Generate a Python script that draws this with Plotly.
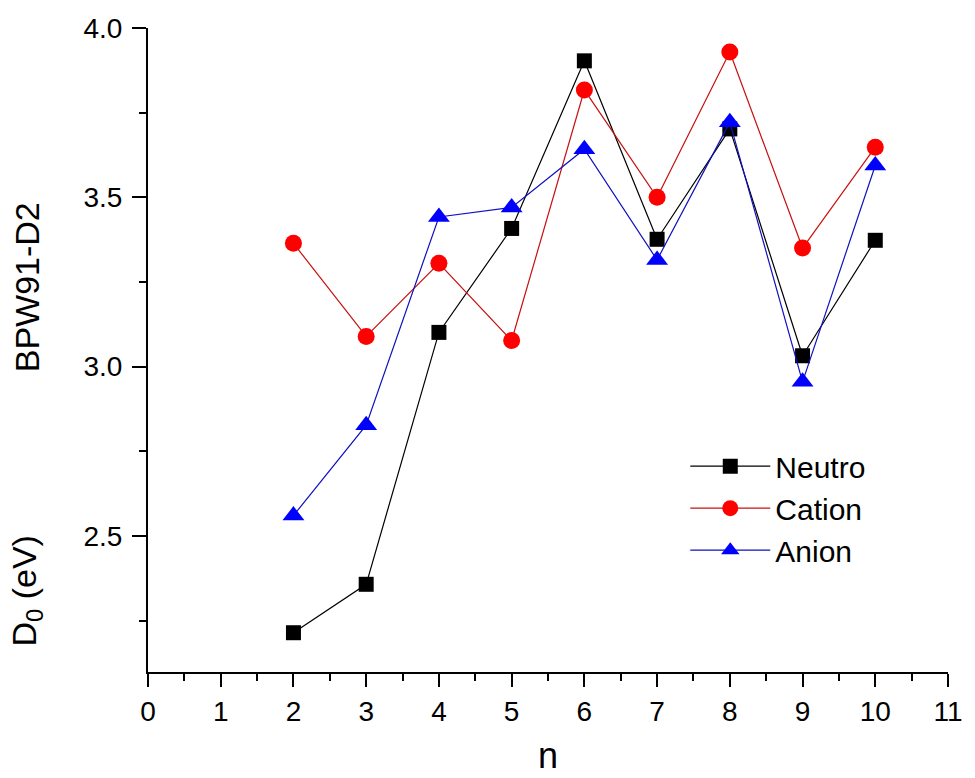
import plotly.graph_objects as go

n = [2, 3, 4, 5, 6, 7, 8, 9, 10]
neutro = [2.214, 2.357, 3.101, 3.408, 3.903, 3.376, 3.702, 3.032, 3.373]
cation = [3.364, 3.089, 3.305, 3.077, 3.817, 3.500, 3.929, 3.350, 3.648]
anion = [2.560, 2.827, 3.442, 3.470, 3.642, 3.315, 3.722, 2.955, 3.594]

x_ticks = list(range(0, 12))
y_ticks = [2.5, 3.0, 3.5, 4.0]

FONT = "Liberation Sans, Arial, sans-serif"

fig = go.Figure()
fig.add_trace(go.Scatter(x=n, y=neutro, mode="lines+markers", name="Neutro",
                         line=dict(color="black", width=1.2),
                         marker=dict(symbol="square", size=15, color="black")))
fig.add_trace(go.Scatter(x=n, y=cation, mode="lines+markers", name="Cation",
                         line=dict(color="#c81010", width=1.2),
                         marker=dict(symbol="circle", size=17, color="#ff0000")))
fig.add_trace(go.Scatter(x=n, y=anion, mode="lines+markers", name="Anion",
                         line=dict(color="#1010c0", width=1.2),
                         marker=dict(symbol="triangle-up", size=19, color="#0000ff")))

fig.update_layout(
    width=975, height=778,
    margin=dict(l=148, r=17, t=28, b=106),
    paper_bgcolor="white", plot_bgcolor="white",
    font=dict(family=FONT, color="black"),
    showlegend=True,
    legend=dict(x=0.6716, y=0.36, xanchor="left", yanchor="top",
                font=dict(size=30, family=FONT),
                bgcolor="rgba(0,0,0,0)", tracegroupgap=0, itemwidth=80),
    xaxis=dict(range=[0, 11], tickvals=x_ticks, ticktext=[str(v) for v in x_ticks],
               showgrid=False, zeroline=False, showline=True, linecolor="black", linewidth=2,
               ticks="outside", ticklen=13, tickwidth=2, tickcolor="black",
               tickfont=dict(size=28),
               minor=dict(dtick=0.5, tick0=0, ticks="outside", ticklen=7, tickwidth=2, tickcolor="black")),
    yaxis=dict(range=[2.098, 4.0], tickvals=y_ticks, ticktext=["%.1f" % v for v in y_ticks],
               showgrid=False, zeroline=False, showline=True, linecolor="black", linewidth=2,
               ticks="outside", ticklen=14, tickwidth=2, tickcolor="black",
               tickfont=dict(size=28), ticklabelstandoff=4,
               minor=dict(dtick=0.25, tick0=0, ticks="outside", ticklen=7, tickwidth=2, tickcolor="black")),
)

fig.add_annotation(text="n", xref="paper", yref="paper",
                   x=0.5, y=-0.1646, xanchor="center", yanchor="bottom",
                   showarrow=False, font=dict(size=36))
fig.add_annotation(text="D<sub>0</sub> (eV)", xref="paper", yref="paper",
                   x=-0.152, y=0.127, xanchor="center", yanchor="middle",
                   textangle=-90, showarrow=False, font=dict(size=34))
fig.add_annotation(text="BPW91-D2", xref="paper", yref="paper",
                   x=-0.152, y=0.598, xanchor="center", yanchor="middle",
                   textangle=-90, showarrow=False, font=dict(size=34))

fig.write_html("out.html")
